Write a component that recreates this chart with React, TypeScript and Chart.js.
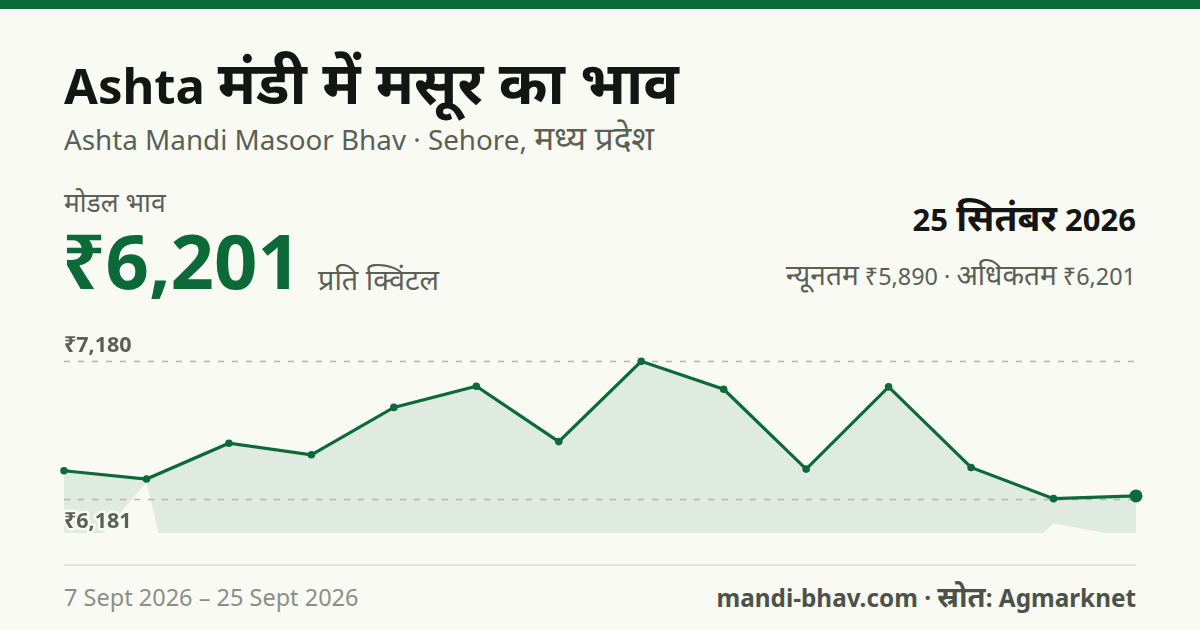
import React, { useEffect, useRef } from "react";
import { Chart, registerables } from "chart.js";

Chart.register(...registerables);

// ---- Data ----
const dates = ["7 Sep", "8 Sep", "9 Sep", "10 Sep", "11 Sep", "12 Sep", "14 Sep", "15 Sep", "16 Sep", "17 Sep", "18 Sep", "22 Sep", "24 Sep", "25 Sep"];
const modalPrices = [6384, 6324, 6584, 6500, 6845, 6999, 6596, 7180, 6977, 6396, 6994, 6408, 6181, 6201];
const minPrices = [5595, 6300, 3750, 5500, 5600, 5650, 5500, 5700, 5650, 5500, 5600, 5460, 6000, 5890];
const refValues = [7180, 6181];
const refLabels = ["₹7,180", "₹6,181"];

const GREEN = "#0b6a37";
const BG = "#fafaf5";
const MUTED = "#5b6055";
const FONT = '"Noto Sans", "Open Sans", sans-serif';
const DEV_SCALE = "1.2em";

// wrap Devanagari runs so they render at a size closer to the reference
function T({ text }: { text: string }) {
  const parts = text.split(/([\u0900-\u097F]+(?:[\s\u0900-\u097F]*[\u0900-\u097F])?)/);
  return (
    <>
      {parts.map((p, i) =>
        /[\u0900-\u097F]/.test(p) ? (
          <span key={i} style={{ fontSize: DEV_SCALE, lineHeight: 0 }}>
            {p}
          </span>
        ) : (
          <React.Fragment key={i}>{p}</React.Fragment>
        )
      )}
    </>
  );
}

const refPlugin = {
  id: "refLines",
  beforeDatasetsDraw(chart: any) {
    const { ctx, chartArea, scales } = chart;
    ctx.save();
    ctx.strokeStyle = "#b4b6ad";
    ctx.lineWidth = 1.5;
    ctx.setLineDash([6, 8]);
    refValues.forEach((v) => {
      const y = Math.round(scales.y.getPixelForValue(v)) + 0.5;
      ctx.beginPath();
      ctx.moveTo(chartArea.left, y);
      ctx.lineTo(chartArea.right, y);
      ctx.stroke();
    });
    ctx.restore();
  },
  afterDatasetsDraw(chart: any) {
    const { ctx, chartArea, scales } = chart;
    ctx.save();
    ctx.font = `bold 21.5px ${FONT}`;
    ctx.textAlign = "left";
    ctx.textBaseline = "alphabetic";
    ctx.lineJoin = "round";
    refValues.forEach((v, i) => {
      const y = scales.y.getPixelForValue(v);
      const ty = i === 0 ? y - 9 : y + 29;
      ctx.strokeStyle = BG;
      ctx.lineWidth = 5;
      ctx.strokeText(refLabels[i], chartArea.left, ty);
      ctx.fillStyle = MUTED;
      ctx.fillText(refLabels[i], chartArea.left, ty);
    });
    ctx.restore();
  },
};

function PriceChart() {
  const ref = useRef<HTMLCanvasElement>(null);
  useEffect(() => {
    if (!ref.current) return;
    const hi = Math.max(...modalPrices);
    const lo = Math.min(...modalPrices);
    const pad = (hi - lo) * 0.25;
    const n = modalPrices.length;
    const chart = new Chart(ref.current, {
      type: "line",
      data: {
        labels: dates,
        datasets: [
          {
            data: modalPrices,
            borderColor: GREEN,
            borderWidth: 3.2,
            backgroundColor: "rgba(11,106,55,0.11)",
            fill: "+1",
            tension: 0,
            pointRadius: modalPrices.map((_, i) => (i === n - 1 ? 6.5 : 3.8)),
            pointBackgroundColor: GREEN,
            pointBorderWidth: 0,
            clip: false as any,
          },
          {
            data: minPrices,
            borderColor: "transparent",
            borderWidth: 0,
            backgroundColor: "transparent",
            pointRadius: 0,
            pointHoverRadius: 0,
            fill: false,
            tension: 0,
          },
        ],
      },
      options: {
        animation: false,
        responsive: false,
        maintainAspectRatio: false,
        layout: { padding: { left: 64, right: 64, top: 27, bottom: 27 } },
        scales: {
          x: { display: false, offset: false },
          y: { display: false, min: lo - pad, max: hi + pad },
        },
        plugins: {
          legend: { display: false },
          tooltip: { enabled: false },
          filler: { drawTime: "beforeDatasetsDraw" } as any,
        },
        events: [],
      },
      plugins: [refPlugin],
    });
    return () => chart.destroy();
  }, []);
  return (
    <canvas
      ref={ref}
      width={1200}
      height={260}
      style={{ position: "absolute", left: 0, top: 300, width: 1200, height: 260 }}
    />
  );
}

const abs = (o: React.CSSProperties): React.CSSProperties => ({
  position: "absolute",
  whiteSpace: "nowrap",
  lineHeight: 1,
  fontFamily: FONT,
  ...o,
});

export default function App() {
  return (
    <div
      style={{
        position: "absolute",
        left: 0,
        top: 0,
        width: 1200,
        height: 630,
        background: BG,
        overflow: "hidden",
        fontFamily: FONT,
      }}
    >
      <div style={{ position: "absolute", left: 0, top: 0, width: 1200, height: 9, background: GREEN }} />
      <div style={abs({ left: 64, top: 61, fontSize: 49, fontWeight: 700, color: "#141614" })}>
        <T text="Ashta मंडी में मसूर का भाव" />
      </div>
      <div style={abs({ left: 64, top: 126, fontSize: 27.8, color: MUTED })}>
        <T text="Ashta Mandi Masoor Bhav · Sehore, मध्य प्रदेश" />
      </div>
      <div style={abs({ left: 64, top: 192, fontSize: 22, color: MUTED })}>
        <T text="मोडल भाव" />
      </div>
      <div style={abs({ left: 62, top: 222, fontSize: 76, fontWeight: 700, color: GREEN })}>₹6,201</div>
      <div style={abs({ left: 318, top: 269, fontSize: 24, color: MUTED })}>
        <T text="प्रति क्विंटल" />
      </div>
      <div style={abs({ right: 64, top: 204, fontSize: 31, fontWeight: 700, color: "#141614" })}>
        <T text="25 सितंबर 2026" />
      </div>
      <div style={abs({ right: 64, top: 265, fontSize: 23.4, color: MUTED })}>
        <T text="न्यूनतम ₹5,890 · अधिकतम ₹6,201" />
      </div>
      <PriceChart />
      <div style={{ position: "absolute", left: 64, top: 564, width: 1072, height: 2, background: "#e3e4dd" }} />
      <div style={abs({ left: 64, top: 586, fontSize: 23.5, color: "#8b8f86" })}>7 Sept 2026 – 25 Sept 2026</div>
      <div style={abs({ right: 64, top: 586, fontSize: 24.3, fontWeight: 700, color: "#4d5248" })}>
        <T text="mandi-bhav.com · स्रोत: Agmarknet" />
      </div>
    </div>
  );
}
